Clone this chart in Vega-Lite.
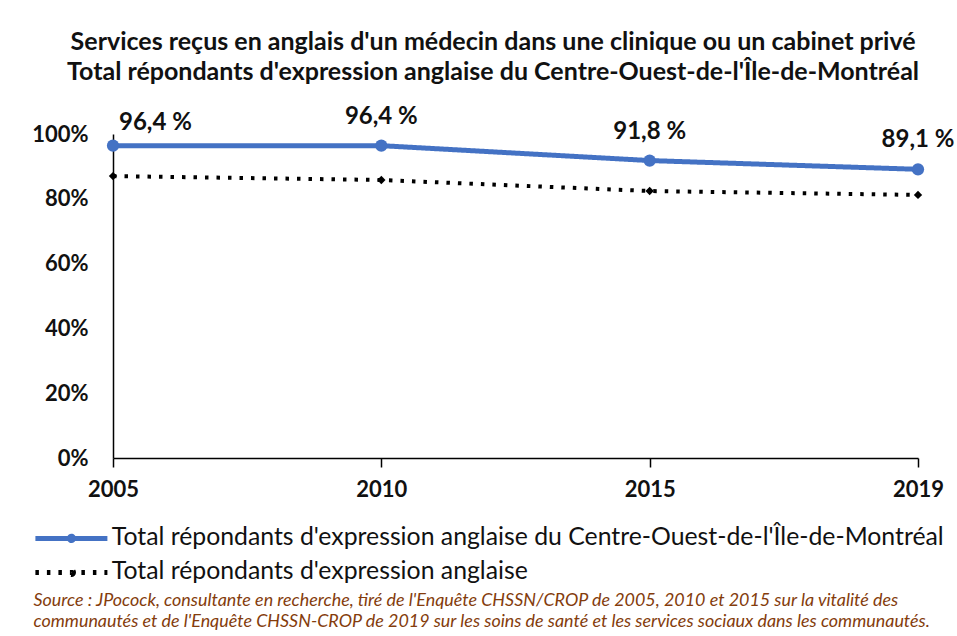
{
  "$schema": "https://vega.github.io/schema/vega-lite/v6.json",
  "autosize": "none",
  "width": 805,
  "height": 324,
  "padding": {"left": 113, "top": 134, "right": 39, "bottom": 178},
  "background": "white",
  "config": {
    "view": {"stroke": null},
    "font": "Lato",
    "legend": {
      "title": null, "direction": "vertical",
      "symbolType": "M-6,0H6M0.35,0A0.35,0.35,0,1,1,-0.35,0A0.35,0.35,0,1,1,0.35,0",
      "symbolSize": 144, "symbolStrokeWidth": 5,
      "labelFont": "Lato", "labelFontSize": 24.8, "labelColor": "#111111",
      "rowPadding": 8, "labelOffset": 28, "labelLimit": 1000
    }
  },
  "title": {
    "text": ["Services reçus en anglais  d'un médecin dans une clinique ou un cabinet privé", "Total répondants d'expression anglaise du Centre-Ouest-de-l'Île-de-Montréal"],
    "font": "Lato", "fontSize": 25, "fontWeight": "bold", "color": "#111111",
    "anchor": "middle", "frame": "bounds", "lineHeight": 30, "offset": 20
  },
  "data": {
    "values": [
      {"year": "2005", "series": "Total répondants d'expression anglaise du Centre-Ouest-de-l'Île-de-Montréal", "value": 0.964, "label": "96,4 %"},
      {"year": "2010", "series": "Total répondants d'expression anglaise du Centre-Ouest-de-l'Île-de-Montréal", "value": 0.964, "label": "96,4 %"},
      {"year": "2015", "series": "Total répondants d'expression anglaise du Centre-Ouest-de-l'Île-de-Montréal", "value": 0.918, "label": "91,8 %"},
      {"year": "2019", "series": "Total répondants d'expression anglaise du Centre-Ouest-de-l'Île-de-Montréal", "value": 0.891, "label": "89,1 %"},
      {"year": "2005", "series": "Total répondants d'expression anglaise", "value": 0.870, "label": ""},
      {"year": "2010", "series": "Total répondants d'expression anglaise", "value": 0.858, "label": ""},
      {"year": "2015", "series": "Total répondants d'expression anglaise", "value": 0.824, "label": ""},
      {"year": "2019", "series": "Total répondants d'expression anglaise", "value": 0.812, "label": ""}
    ]
  },
  "encoding": {
    "x": {
      "field": "year", "type": "ordinal",
      "scale": {"type": "point", "padding": 0},
      "axis": {
        "labelAngle": 0, "labelFont": "Lato", "labelFontSize": 22, "labelFontWeight": "bold", "labelColor": "#111111",
        "labelPadding": 12, "domainColor": "#000000", "domainWidth": 1.5, "tickColor": "#000000", "tickWidth": 1.5, "tickSize": 9,
        "grid": false,
        "title": ["Source : JPocock, consultante en recherche, tiré de l'Enquête CHSSN/CROP de 2005, 2010 et 2015 sur la vitalité des", "communautés et de l'Enquête CHSSN-CROP de 2019 sur les soins de santé et les services sociaux dans les communautés."],
        "titleFont": "Lato", "titleFontSize": 17.9, "titleFontStyle": "italic", "titleFontWeight": "normal", "titleColor": "#843C0C",
        "titleAlign": "left", "titleAnchor": "start", "titleBaseline": "top", "titleX": -80, "titleY": 133, "titleLineHeight": 21
      }
    },
    "y": {
      "field": "value", "type": "quantitative",
      "scale": {"domain": [0, 1], "nice": false},
      "axis": {
        "values": [0, 0.2, 0.4, 0.6, 0.8, 1], "format": ".0%", "grid": false, "ticks": false,
        "labelFont": "Lato", "labelFontSize": 22, "labelFontWeight": "bold", "labelColor": "#111111", "labelPadding": 25,
        "domainColor": "#000000", "domainWidth": 1.5, "title": null
      }
    }
  },
  "layer": [
    {
      "transform": [{"filter": "datum.series === 'Total répondants d\\'expression anglaise'"}],
      "mark": {"type": "line", "strokeWidth": 4, "strokeCap": "butt"},
      "encoding": {
        "color": {"field": "series", "type": "nominal",
          "scale": {"domain": ["Total répondants d'expression anglaise du Centre-Ouest-de-l'Île-de-Montréal", "Total répondants d'expression anglaise"], "range": ["#4472C4", "#000000"]},
          "legend": {"orient": "none", "legendX": -54, "legendY": 392}},
        "strokeDash": {"field": "series", "type": "nominal",
          "scale": {"domain": ["Total répondants d'expression anglaise du Centre-Ouest-de-l'Île-de-Montréal", "Total répondants d'expression anglaise"], "range": [[1, 0], [3.5, 8]]},
          "legend": {"orient": "none", "legendX": -54, "legendY": 392}}
      }
    },
    {
      "transform": [{"filter": "datum.series !== 'Total répondants d\\'expression anglaise'"}],
      "mark": {"type": "line", "strokeWidth": 5},
      "encoding": {
        "color": {"field": "series", "type": "nominal"},
        "strokeDash": {"field": "series", "type": "nominal"}
      }
    },
    {
      "transform": [{"filter": "datum.series === 'Total répondants d\\'expression anglaise'"}],
      "mark": {"type": "point", "shape": "diamond", "filled": true, "size": 70, "color": "#000000", "opacity": 1}
    },
    {
      "transform": [{"filter": "datum.series !== 'Total répondants d\\'expression anglaise'"}],
      "mark": {"type": "point", "shape": "circle", "filled": true, "size": 150, "color": "#4472C4", "opacity": 1}
    },
    {
      "transform": [{"filter": "datum.label !== '' && datum.year === '2005'"}],
      "mark": {"type": "text", "align": "left", "baseline": "middle", "dx": 6, "dy": -23, "font": "Lato", "fontSize": 24, "fontWeight": "bold", "color": "#111111"},
      "encoding": {"text": {"field": "label"}}
    },
    {
      "transform": [{"filter": "datum.label !== '' && datum.year !== '2005'"}],
      "mark": {"type": "text", "align": "center", "baseline": "middle", "dy": -29, "font": "Lato", "fontSize": 24, "fontWeight": "bold", "color": "#111111"},
      "encoding": {"text": {"field": "label"}}
    }
  ]
}
